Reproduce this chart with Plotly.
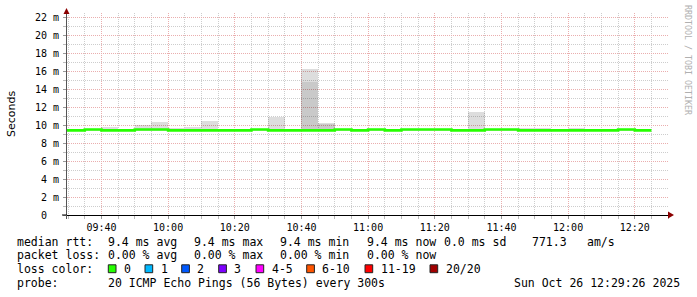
import plotly.graph_objects as go

# ---------------- data ----------------
DAY = "2025-10-26 "
step_start = ["09:25", "09:30", "09:35", "09:40", "09:45", "09:50", "09:55",
              "10:00", "10:05", "10:10", "10:15", "10:20", "10:25", "10:30",
              "10:35", "10:40", "10:45", "10:50", "10:55", "11:00", "11:05",
              "11:10", "11:15", "11:20", "11:25", "11:30", "11:35", "11:40",
              "11:45", "11:50", "11:55", "12:00", "12:05", "12:10", "12:15",
              "12:20"]
step_end = "12:25"
median_ms = [9.4, 9.4, 9.5, 9.4, 9.4, 9.5, 9.5,
             9.4, 9.4, 9.4, 9.4, 9.4, 9.5, 9.4,
             9.4, 9.4, 9.4, 9.5, 9.4, 9.5, 9.4,
             9.5, 9.5, 9.5, 9.4, 9.4, 9.5, 9.5,
             9.4, 9.4, 9.4, 9.4, 9.4, 9.4, 9.5,
             9.4]
ping_low_ms = [9.3, 9.3, 9.3, 9.3, 9.3, 9.3, 9.3,
               9.3, 9.3, 9.3, 9.3, 9.3, 9.3, 9.3,
               9.3, 9.3, 9.3, 9.3, 9.3, 9.3, 9.3,
               9.3, 9.3, 9.3, 9.3, 9.3, 9.3, 9.3,
               9.3, 9.3, 9.3, 9.3, 9.3, 9.3, 9.3,
               9.3]
dense_top_ms = [9.3, 9.3, 9.3, 9.3, 9.3, 9.3, 9.3,
                9.3, 9.3, 9.3, 9.3, 9.3, 9.3, 9.3,
                9.3, 14.8, 10.1, 9.3, 9.3, 9.3, 9.3,
                9.3, 9.3, 9.3, 9.3, 9.3, 9.3, 9.3,
                9.3, 9.3, 9.3, 9.3, 9.3, 9.3, 9.3,
                9.3]
ping_high_ms = [9.6, 9.6, 9.5, 9.8, 9.4, 9.95, 10.35,
                9.7, 9.8, 10.4, 9.6, 9.4, 9.5, 10.9,
                9.5, 16.2, 10.25, 9.5, 9.6, 9.5, 9.6,
                9.5, 9.5, 9.5, 9.4, 11.4, 9.5, 9.5,
                9.7, 9.7, 9.4, 9.7, 9.6, 9.6, 9.5,
                9.4]

x_ticks = ["09:40", "10:00", "10:20", "10:40", "11:00", "11:20", "11:40",
           "12:00", "12:20"]
y_ticks = [0, 2, 4, 6, 8, 10, 12, 14, 16, 18, 20, 22]
y_labels = ["0\u00a0\u00a0"] + [f"{v} m" for v in y_ticks[1:]]

rtt_label = "median rtt:"
rtt_stats = ["9.4 ms avg", "9.4 ms max", "9.4 ms min", "9.4 ms now",
             "0.0 ms sd", "771.3", "am/s"]
loss_label = "packet loss:"
loss_stats = ["0.00 % avg", "0.00 % max", "0.00 % min", "0.00 % now"]
color_label = "loss color:"
loss_names = ["0", "1", "2", "3", "4-5", "6-10", "11-19", "20/20"]
loss_colors = ["#26ff00", "#00b8ff", "#0059ff", "#7e00ff", "#ff00ff",
               "#ff5500", "#ff0000", "#a10000"]
probe_label = "probe:"
probe_text = "20 ICMP Echo Pings (56 Bytes) every 300s"
stamp_text = "Sun Oct 26 12:29:26 2025"
credit_text = "RRDTOOL / TOBI OETIKER"

# ---------------- layout geometry (pixels) ----------------
FIG_W, FIG_H = 697, 297
L, R, T, B = 67, 669, 13, 215


def px(x):
    return (x - L) / (R - L)


def py(y):
    return (B - y) / (B - T)


MONO = "DejaVu Sans Mono"
MAJOR = "#eaaeae"
MINOR = "#cdcdcd"
STEP_MS = 300000

xs = [DAY + s for s in step_start]

fig = go.Figure()
fig.add_trace(go.Bar(
    x=xs, base=ping_low_ms,
    y=[d - l for d, l in zip(dense_top_ms, ping_low_ms)],
    width=STEP_MS, offset=0,
    marker=dict(color="rgba(0,0,0,0.21)", line=dict(width=0)),
    hoverinfo="skip"))
fig.add_trace(go.Bar(
    x=xs, base=dense_top_ms,
    y=[h - d for h, d in zip(ping_high_ms, dense_top_ms)],
    width=STEP_MS, offset=0,
    marker=dict(color="rgba(0,0,0,0.135)", line=dict(width=0)),
    hoverinfo="skip"))
fig.add_trace(go.Scatter(
    x=xs + [DAY + step_end], y=median_ms + [median_ms[-1]],
    mode="lines", line=dict(color=loss_colors[0], width=2.6, shape="hv"),
    hoverinfo="skip"))

fig.update_layout(
    width=FIG_W, height=FIG_H,
    margin=dict(l=L, r=FIG_W - R, t=T, b=FIG_H - B),
    paper_bgcolor="white", plot_bgcolor="white",
    showlegend=False, barmode="overlay", bargap=0,
    xaxis=dict(
        type="date", range=[DAY + "09:29:40", DAY + "12:30:16"],
        tickmode="array", tickvals=[DAY + t for t in x_ticks], ticktext=x_ticks,
        showgrid=True, gridcolor=MAJOR, gridwidth=1, griddash="1px,1px",
        ticks="outside", ticklen=3, tickcolor="#999",
        minor=dict(dtick=STEP_MS, tick0=DAY + "09:30", showgrid=True,
                   gridcolor=MINOR, gridwidth=1, griddash="1px,1px",
                   ticks="outside", ticklen=3, tickcolor="#bbb"),
        showline=True, linecolor="black", linewidth=1, zeroline=False,
        tickfont=dict(family=MONO, size=10, color="black"),
        fixedrange=True),
    yaxis=dict(
        range=[0, (B - T) / 9.0], tickmode="array", tickvals=y_ticks,
        ticktext=y_labels,
        showgrid=True, gridcolor=MAJOR, gridwidth=1, griddash="1px,1px",
        ticks="outside", ticklen=3, tickcolor="#999",
        minor=dict(dtick=1, showgrid=True, gridcolor=MINOR, gridwidth=1,
                   griddash="1px,1px", ticks="outside", ticklen=3,
                   tickcolor="#bbb"),
        showline=True, linecolor="#555", linewidth=1, zeroline=False,
        tickfont=dict(family=MONO, size=10, color="black"),
        ticklabelstandoff=2, fixedrange=True),
)

shapes = []
# axis extensions and arrows
shapes.append(dict(type="line", xref="paper", yref="paper",
                   x0=px(62), x1=px(67), y0=py(215), y1=py(215),
                   line=dict(color="black", width=1)))
shapes.append(dict(type="line", xref="paper", yref="paper",
                   x0=px(66.5), x1=px(66.5), y0=py(215), y1=py(219),
                   line=dict(color="#555", width=1)))
shapes.append(dict(type="line", xref="paper", yref="paper",
                   x0=px(66.5), x1=px(66.5), y0=py(13), y1=py(9),
                   line=dict(color="#555", width=1)))
shapes.append(dict(type="path", xref="paper", yref="paper",
                   path=f"M {px(668)},{py(211.5)} L {px(674)},{py(215)} "
                        f"L {px(668)},{py(218.5)} Z",
                   fillcolor="#8b0000", line=dict(width=0)))
shapes.append(dict(type="path", xref="paper", yref="paper",
                   path=f"M {px(63.5)},{py(14)} L {px(66.5)},{py(8)} "
                        f"L {px(69.5)},{py(14)} Z",
                   fillcolor="#8b0000", line=dict(width=0)))

annotations = []


def text(x, y, s, anchor="left", size=11.5, color="black", family=MONO,
         angle=0):
    annotations.append(dict(
        x=px(x), y=py(y), xref="paper", yref="paper", text=s,
        showarrow=False, xanchor=anchor, yanchor="middle", borderpad=0,
        textangle=angle, font=dict(family=family, size=size, color=color)))


# legend rows
ROW = [241.7, 255.3, 269.0, 282.7]
COL = [107.3, 193.3, 279.3, 366.0, 443.3, 530.7, 586.0]
text(16, ROW[0], rtt_label)
for xpos, s in zip(COL, rtt_stats):
    text(xpos, ROW[0], s)
text(16, ROW[1], loss_label)
for xpos, s in zip(COL, loss_stats):
    text(xpos, ROW[1], s)
text(16, ROW[2], color_label)
BOX_X = [108.3, 145.0, 181.7, 218.7, 256.0, 306.7, 365.0, 430.0]
for bx, name, col in zip(BOX_X, loss_names, loss_colors):
    shapes.append(dict(type="rect", xref="paper", yref="paper",
                       x0=px(bx), x1=px(bx + 7.7), y0=py(272.7), y1=py(264.8),
                       fillcolor=col, line=dict(color="#222", width=1)))
    text(bx + 14.5, ROW[2], name)
text(16, ROW[3], probe_label)
text(107.3, ROW[3], probe_text)
text(680.5, ROW[3], stamp_text, anchor="right")

# axis title and credit
text(11, 114, "Seconds", anchor="center", size=11, family="DejaVu Sans",
     angle=-90)
text(688, 60, credit_text, anchor="center", size=8.3, color="#b0b0b0",
     angle=90)

fig.update_layout(shapes=shapes, annotations=annotations)
fig.write_html("out.html")
